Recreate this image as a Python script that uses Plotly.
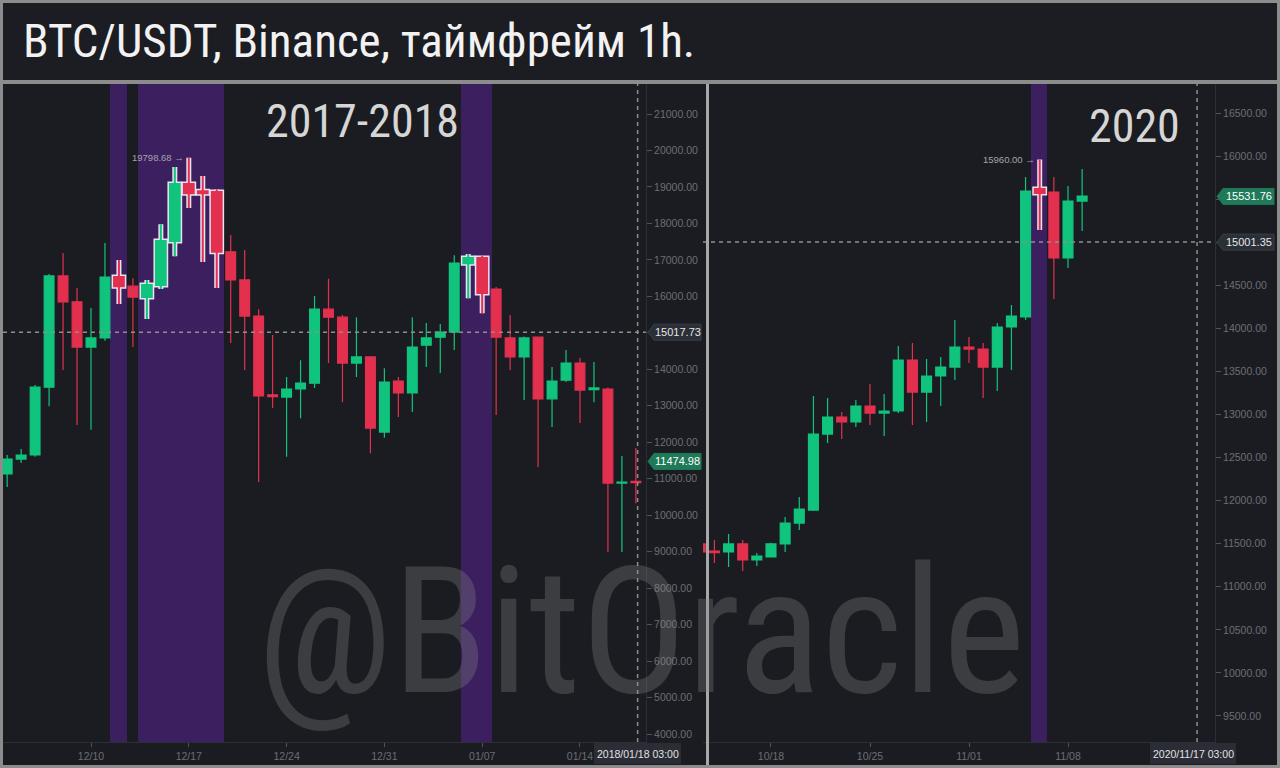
import plotly.graph_objects as go

# ---------------- data ----------------
# Left panel: BTC/USDT daily candles, Dec 2017 - Jan 2018
dates_1 = ["2017-12-04", "2017-12-05", "2017-12-06", "2017-12-07", "2017-12-08", "2017-12-09",
           "2017-12-10", "2017-12-11", "2017-12-12", "2017-12-13", "2017-12-14", "2017-12-15",
           "2017-12-16", "2017-12-17", "2017-12-18", "2017-12-19", "2017-12-20", "2017-12-21",
           "2017-12-22", "2017-12-23", "2017-12-24", "2017-12-25", "2017-12-26", "2017-12-27",
           "2017-12-28", "2017-12-29", "2017-12-30", "2017-12-31", "2018-01-01", "2018-01-02",
           "2018-01-03", "2018-01-04", "2018-01-05", "2018-01-06", "2018-01-07", "2018-01-08",
           "2018-01-09", "2018-01-10", "2018-01-11", "2018-01-12", "2018-01-13", "2018-01-14",
           "2018-01-15", "2018-01-16", "2018-01-17", "2018-01-18"]
open_1 = [11130, 11540, 11650, 13510, 16560, 15850, 14610, 14860, 16530, 16280, 15980, 16310,
          17520, 19080, 18880, 18860, 17220, 16450, 15460, 13300, 13240, 13460, 13620, 15650,
          15430, 14170, 14340, 12280, 13680, 13350, 14660, 14880, 15020, 16910, 17050, 16200,
          14860, 14340, 14880, 13190, 13700, 14170, 13440, 13460, 10880, 10930]
high_1 = [11650, 11815, 13570, 16610, 17190, 16230, 15680, 17460, 17000, 16500, 16450, 17980,
          19550, 19798.68, 19300, 18940, 17680, 17270, 15650, 14940, 13790, 14250, 16010, 16480,
          15490, 15430, 14350, 14030, 13790, 15430, 15270, 15240, 17130, 17160, 17110, 16260,
          15490, 14900, 14890, 14060, 14530, 14310, 14200, 13500, 11620, 11840]
low_1 = [10770, 11430, 11600, 12990, 13980, 12470, 12340, 14780, 15790, 14610, 15380, 16200,
         17100, 18420, 16940, 16230, 14720, 13980, 10910, 12940, 11600, 12660, 13490, 14170,
         13100, 13790, 11700, 12120, 12690, 12830, 14060, 13900, 14530, 15950, 15540, 12750,
         13980, 13160, 11320, 12420, 13650, 12530, 13100, 8990, 8990, 10330]
close_1 = [11540, 11650, 13510, 16560, 15850, 14610, 14860, 16530, 16280, 15980, 16310, 17520,
           19080, 18830, 18830, 17220, 16450, 15460, 13270, 13250, 13460, 13620, 15650, 15430,
           14170, 14340, 12390, 13650, 13350, 14610, 14860, 15020, 16910, 17050, 16090, 14880,
           14340, 14860, 13190, 13680, 14170, 13430, 13490, 10880, 10910, 10890]
marked_1 = ["2017-12-12", "2017-12-14", "2017-12-15", "2017-12-16", "2017-12-17", "2017-12-18",
            "2017-12-19", "2018-01-06", "2018-01-07"]
band_start_1 = ["2017-12-11 08:40", "2017-12-13 08:45", "2018-01-05 11:30"]
band_end_1 = ["2017-12-12 13:50", "2017-12-19 12:30", "2018-01-07 16:50"]
xticks_1 = ["2017-12-10", "2017-12-17", "2017-12-24", "2017-12-31", "2018-01-07", "2018-01-14"]
yticks_1 = list(range(4000, 21001, 1000))
peak_1 = ("2017-12-17", 19798.68)
cross_1 = ("2018-01-18 03:00", 15017.73)
last_1 = 11474.98

# Right panel: BTC/USDT daily candles, Oct - Nov 2020
dates_2 = ["2020-10-13", "2020-10-14", "2020-10-15", "2020-10-16", "2020-10-17", "2020-10-18",
           "2020-10-19", "2020-10-20", "2020-10-21", "2020-10-22", "2020-10-23", "2020-10-24",
           "2020-10-25", "2020-10-26", "2020-10-27", "2020-10-28", "2020-10-29", "2020-10-30",
           "2020-10-31", "2020-11-01", "2020-11-02", "2020-11-03", "2020-11-04", "2020-11-05",
           "2020-11-06", "2020-11-07", "2020-11-08", "2020-11-09"]
open_2 = [11497, 11415, 11404, 11497, 11311, 11346, 11497, 11740, 11890, 12773, 12971, 12913,
          13099, 13017, 13041, 13633, 13261, 13447, 13551, 13784, 13760, 13551, 14016, 14132,
          15618, 15583, 14817, 15478]
high_2 = [11560, 11543, 11613, 11543, 11392, 11510, 11810, 12042, 13215, 13192, 13029, 13168,
          13354, 13238, 13795, 13830, 13644, 13667, 14097, 13900, 13830, 14062, 14271, 15757,
          15960, 15757, 15653, 15850]
low_2 = [11380, 11276, 11230, 11183, 11241, 11340, 11404, 11659, 11880, 12669, 12715, 12855,
         12878, 12750, 13017, 12878, 12913, 13099, 13400, 13598, 13192, 13273, 13517, 14097,
         15142, 14341, 14701, 15130]
close_2 = [11404, 11395, 11497, 11311, 11357, 11497, 11740, 11903, 12773, 12971, 12913, 13099,
           13017, 13041, 13633, 13261, 13447, 13551, 13784, 13760, 13551, 14016, 14143, 15594,
           15571, 14817, 15478, 15536]
marked_2 = ["2020-11-06"]
band_start_2 = ["2020-11-05 09:10"]
band_end_2 = ["2020-11-06 12:20"]
xticks_2 = ["2020-10-18", "2020-10-25", "2020-11-01", "2020-11-08"]
yticks_2 = list(range(9500, 16501, 500))
peak_2 = ("2020-11-06", 15960.00)
cross_2 = ("2020-11-17 03:00", 15001.35)
last_2 = 15531.76

# ---------------- style ----------------
W, H = 1280, 768
GREEN = "#10c47d"
RED = "#e3304f"
OUTLINE = "#e9e2f0"
PANEL = "#1b1c21"
FRAME = "#8c8c8c"
PURPLE = "#3b1f5f"
TICK = "#6b6e75"
AXLINE = "#2d2f36"
TAGDARK = "#2b2f37"
TAGGREEN = "#1e7a58"
CROSS = "#8e8e8e"
NARROW = "Liberation Sans Narrow, Roboto Condensed, Liberation Sans, sans-serif"
SANS = "Liberation Sans, Arial, sans-serif"


def px(x):
    return x / W


def py(y):
    return 1 - y / H


fig = go.Figure()


def add_candles(dates, o, h, l, c, marked, xa, ya):
    idx_m = [i for i, d in enumerate(dates) if d in marked]
    idx_n = [i for i, d in enumerate(dates) if d not in marked]

    def sub(arr, idx):
        return [arr[i] for i in idx]

    if idx_m:
        fig.add_trace(go.Candlestick(
            x=sub(dates, idx_m), open=sub(o, idx_m), high=sub(h, idx_m), low=sub(l, idx_m),
            close=sub(c, idx_m), xaxis=xa, yaxis=ya, showlegend=False, hoverinfo="skip",
            increasing=dict(line=dict(color=OUTLINE, width=5), fillcolor=OUTLINE),
            decreasing=dict(line=dict(color=OUTLINE, width=5), fillcolor=OUTLINE)))
        fig.add_trace(go.Candlestick(
            x=sub(dates, idx_m), open=sub(o, idx_m), high=sub(h, idx_m), low=sub(l, idx_m),
            close=sub(c, idx_m), xaxis=xa, yaxis=ya, showlegend=False,
            increasing=dict(line=dict(color=GREEN, width=2), fillcolor=GREEN),
            decreasing=dict(line=dict(color=RED, width=2), fillcolor=RED)))
    fig.add_trace(go.Candlestick(
        x=sub(dates, idx_n), open=sub(o, idx_n), high=sub(h, idx_n), low=sub(l, idx_n),
        close=sub(c, idx_n), xaxis=xa, yaxis=ya, showlegend=False,
        increasing=dict(line=dict(color=GREEN, width=1.2), fillcolor=GREEN),
        decreasing=dict(line=dict(color=RED, width=1.2), fillcolor=RED)))


add_candles(dates_1, open_1, high_1, low_1, close_1, marked_1, "x", "y")
add_candles(dates_2, open_2, high_2, low_2, close_2, marked_2, "x2", "y2")

ydom = [py(742), py(84)]
axis_common = dict(showgrid=False, zeroline=False, showline=True, linecolor=AXLINE, linewidth=1,
                   ticks="outside", tickcolor="#50535a",
                   tickfont=dict(size=10.5, color=TICK, family=SANS), fixedrange=True)

fig.update_layout(
    width=W, height=H, margin=dict(l=0, r=0, t=0, b=0),
    paper_bgcolor=FRAME, plot_bgcolor=PANEL,
    boxgap=0.3, boxgroupgap=0, boxmode="overlay",
    showlegend=False,
    xaxis=dict(domain=[px(3), px(646)], anchor="y", type="date",
               range=["2017-12-03 16:50", "2018-01-18 17:24"],
               tickvals=xticks_1, tickformat="%m/%d", ticklen=4,
               rangeslider=dict(visible=False), **axis_common),
    yaxis=dict(domain=ydom, anchor="x", side="right", range=[3781, 21823],
               tickvals=yticks_1, tickformat=".2f", ticklen=5, **axis_common),
    xaxis2=dict(domain=[px(703), px(1215)], anchor="y2", type="date",
                range=["2020-10-13 04:37", "2020-11-18 09:27"],
                tickvals=xticks_2, tickformat="%m/%d", ticklen=4,
                rangeslider=dict(visible=False), **axis_common),
    yaxis2=dict(domain=ydom, anchor="x2", side="right", range=[9198, 16837],
                tickvals=yticks_2, tickformat=".2f", ticklen=5, **axis_common),
)

shapes = []
# frame pieces
shapes.append(dict(type="rect", xref="paper", yref="paper", x0=px(3), x1=px(1277), y0=py(80), y1=py(3),
                   fillcolor="#1c1d22", line=dict(width=0), layer="below"))
shapes.append(dict(type="rect", xref="paper", yref="paper", x0=px(3), x1=px(706), y0=py(765), y1=py(84),
                   fillcolor=PANEL, line=dict(width=0), layer="below"))
shapes.append(dict(type="rect", xref="paper", yref="paper", x0=px(709), x1=px(1277), y0=py(765), y1=py(84),
                   fillcolor=PANEL, line=dict(width=0), layer="below"))

# purple bands
for xs, xe in zip(band_start_1, band_end_1):
    shapes.append(dict(type="rect", xref="x", yref="y domain", x0=xs, x1=xe, y0=0, y1=1,
                       fillcolor=PURPLE, line=dict(width=0), layer="below"))
for xs, xe in zip(band_start_2, band_end_2):
    shapes.append(dict(type="rect", xref="x2", yref="y2 domain", x0=xs, x1=xe, y0=0, y1=1,
                       fillcolor=PURPLE, line=dict(width=0), layer="below"))

# crosshairs
for xr, yr, (cx, cy) in [("x", "y", cross_1), ("x2", "y2", cross_2)]:
    shapes.append(dict(type="line", xref=xr, yref=yr + " domain", x0=cx, x1=cx, y0=0, y1=1,
                       line=dict(color=CROSS, width=1.5, dash="4px,4px"), layer="above"))
    shapes.append(dict(type="line", xref=xr + " domain", yref=yr, x0=0, x1=1, y0=cy, y1=cy,
                       line=dict(color=CROSS, width=1.5, dash="4px,4px"), layer="above"))

# panel divider (drawn over the partial first candle of the right panel)
shapes.append(dict(type="rect", xref="paper", yref="paper", x0=px(706), x1=px(709), y0=py(765), y1=py(84),
                   fillcolor="#a8a8a8", line=dict(width=0), layer="above"))

annotations = []


def price_tag(tip_px, end_px, val, yref, units_per_px, fill, text_color, label):
    dy = 8 * units_per_px
    xt, xb, xe = px(tip_px), px(tip_px + 6), px(end_px)
    path = (f"M {xt},{val} L {xb},{val + dy} L {xe},{val + dy} L {xe},{val - dy} "
            f"L {xb},{val - dy} Z")
    shapes.append(dict(type="path", xref="paper", yref=yref, path=path, fillcolor=fill,
                       line=dict(color="#3a3e47" if fill == TAGDARK else fill, width=1), layer="above"))
    annotations.append(dict(xref="paper", yref=yref, x=(xb + xe) / 2, y=val, text=label,
                            xanchor="center", yanchor="middle", showarrow=False,
                            font=dict(size=11, color=text_color, family=SANS)))


price_tag(648, 701, cross_1[1], "y", 1000 / 36.47, TAGDARK, "#e6e6e6", f"{cross_1[1]:.2f}")
price_tag(648, 701, last_1, "y", 1000 / 36.47, TAGGREEN, "#ffffff", f"{last_1:.2f}")
price_tag(1217, 1274, cross_2[1], "y2", 500 / 43.07, TAGDARK, "#e6e6e6", f"{cross_2[1]:.2f}")
price_tag(1217, 1274, last_2, "y2", 500 / 43.07, TAGGREEN, "#ffffff", f"{last_2:.2f}")


def date_tag(x0, x1, text):
    shapes.append(dict(type="rect", xref="paper", yref="paper", x0=px(x0), x1=px(x1), y0=py(764), y1=py(743),
                       fillcolor="#2a2d35", line=dict(width=0), layer="above"))
    annotations.append(dict(xref="paper", yref="paper", x=px((x0 + x1) / 2), y=py(753.5), text=text,
                            xanchor="center", yanchor="middle", showarrow=False,
                            font=dict(size=10.5, color="#e2e2e2", family=SANS)))


date_tag(594, 681, "2018/01/18 03:00")
date_tag(1150, 1236, "2020/11/17 03:00")

# peak annotations
for xr, yr, (dx, dv) in [("x", "y", peak_1), ("x2", "y2", peak_2)]:
    annotations.append(dict(xref=xr, yref=yr, x=dx, y=dv, text=f"{dv:.2f} \u2192", showarrow=False,
                            xanchor="right", yanchor="middle", xshift=-3,
                            font=dict(size=9.5, color="#a4a4ab", family=SANS)))

# titles
annotations.append(dict(xref="paper", yref="paper", x=px(21), y=py(41), xanchor="left", yanchor="middle",
                        text="BTC/USDT, Binance, таймфрейм 1h.", showarrow=False,
                        font=dict(size=47, color="#f2f2f2", family=NARROW)))
annotations.append(dict(xref="paper", yref="paper", x=px(362), y=py(121), xanchor="center", yanchor="middle",
                        text="2017-2018", showarrow=False, font=dict(size=46, color="#d6d6d6", family=NARROW)))
annotations.append(dict(xref="paper", yref="paper", x=px(1134), y=py(126), xanchor="center", yanchor="middle",
                        text="2020", showarrow=False, font=dict(size=46, color="#d6d6d6", family=NARROW)))
# watermark
annotations.append(dict(xref="paper", yref="paper", x=px(641), y=py(632), xanchor="center", yanchor="middle",
                        text="@BitOracle", showarrow=False,
                        font=dict(size=176, color="rgba(140,140,140,0.30)", family=NARROW)))

fig.update_layout(shapes=shapes, annotations=annotations)
fig.write_html("out.html", config={"displayModeBar": False},
               post_script="document.body.style.margin='0px';document.body.style.overflow='hidden';")
